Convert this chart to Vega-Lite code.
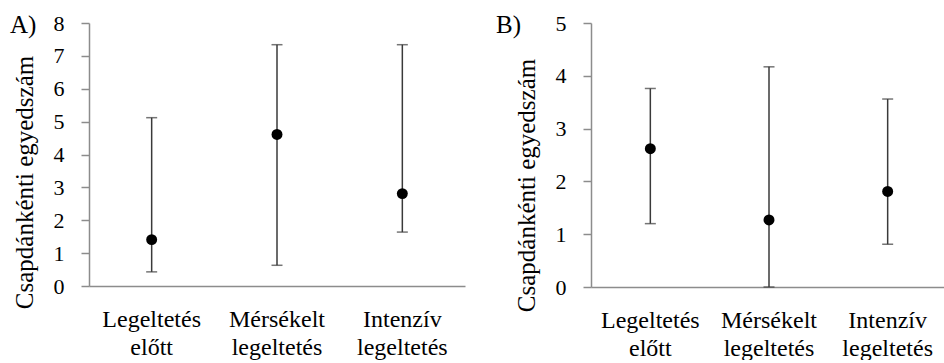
{
  "$schema": "https://vega.github.io/schema/vega-lite/v6.json",
  "background": "white",
  "padding": {"left": 10, "top": 12, "right": 0, "bottom": 0},
  "spacing": 31,
  "config": {
    "view": {"stroke": null},
    "font": "Liberation Serif",
    "axis": {
      "domainColor": "#8c8c8c",
      "tickColor": "#8c8c8c",
      "domainWidth": 1.5,
      "tickWidth": 1.5,
      "grid": false,
      "labelFont": "Liberation Serif",
      "titleFont": "Liberation Serif",
      "labelColor": "#000000",
      "titleColor": "#000000",
      "titleFontWeight": "normal"
    },
    "axisY": {"labelFontSize": 22, "titleFontSize": 25, "tickSize": 8, "labelPadding": 17, "titlePadding": 16},
    "axisX": {"labelFontSize": 24, "ticks": false, "labelPadding": 21, "labelLineHeight": 28, "labelBaseline": "top", "labelAngle": 0}
  },
  "datasets": {
    "A": [
      {"kat": "Legeltetés|előtt", "atlag": 1.41, "also": 0.43, "felso": 5.12},
      {"kat": "Mérsékelt|legeltetés", "atlag": 4.61, "also": 0.63, "felso": 7.34},
      {"kat": "Intenzív|legeltetés", "atlag": 2.81, "also": 1.64, "felso": 7.34}
    ],
    "B": [
      {"kat": "Legeltetés|előtt", "atlag": 2.62, "also": 1.2, "felso": 3.76},
      {"kat": "Mérsékelt|legeltetés", "atlag": 1.27, "also": 0, "felso": 4.17},
      {"kat": "Intenzív|legeltetés", "atlag": 1.81, "also": 0.81, "felso": 3.56}
    ]
  },
  "hconcat": [
    {
      "width": 376,
      "height": 263,
      "data": {"name": "A"},
      "title": {"text": "A)", "anchor": "start", "frame": "bounds", "fontSize": 25, "font": "Liberation Serif", "fontWeight": "normal", "dy": 26, "dx": -2, "offset": 0},
      "encoding": {
        "x": {
          "field": "kat", "type": "nominal", "sort": null,
          "scale": {"paddingInner": 0, "paddingOuter": 0},
          "axis": {"title": null, "labelExpr": "split(datum.label, '|')"}
        }
      },
      "layer": [
        {
          "mark": {"type": "rule", "color": "#3a3a3a", "strokeWidth": 1.5},
          "encoding": {
            "y": {"field": "also", "type": "quantitative", "scale": {"domain": [0, 8], "nice": false},
              "axis": {"title": "Csapdánkénti egyedszám", "titleY": 159, "values": [0,1,2,3,4,5,6,7,8]}},
            "y2": {"field": "felso"}
          }
        },
        {
          "mark": {"type": "tick", "color": "#3a3a3a", "size": 11, "thickness": 1.5, "orient": "horizontal"},
          "encoding": {"y": {"field": "also", "type": "quantitative",
              "axis": {"title": "Csapdánkénti egyedszám", "titleY": 159, "values": [0,1,2,3,4,5,6,7,8]}}}
        },
        {
          "mark": {"type": "tick", "color": "#3a3a3a", "size": 11, "thickness": 1.5, "orient": "horizontal"},
          "encoding": {"y": {"field": "felso", "type": "quantitative",
              "axis": {"title": "Csapdánkénti egyedszám", "titleY": 159, "values": [0,1,2,3,4,5,6,7,8]}}}
        },
        {
          "mark": {"type": "point", "filled": true, "color": "#000000", "size": 120, "opacity": 1},
          "encoding": {"y": {"field": "atlag", "type": "quantitative",
              "axis": {"title": "Csapdánkénti egyedszám", "titleY": 159, "values": [0,1,2,3,4,5,6,7,8]}}}
        }
      ]
    },
    {
      "width": 356,
      "height": 264,
      "data": {"name": "B"},
      "title": {"text": "B)", "anchor": "start", "frame": "bounds", "fontSize": 25, "font": "Liberation Serif", "fontWeight": "normal", "dy": 26, "dx": -18, "offset": 0},
      "encoding": {
        "x": {
          "field": "kat", "type": "nominal", "sort": null,
          "scale": {"paddingInner": 0, "paddingOuter": 0},
          "axis": {"title": null, "labelExpr": "split(datum.label, '|')"}
        }
      },
      "layer": [
        {
          "mark": {"type": "rule", "color": "#3a3a3a", "strokeWidth": 1.5},
          "encoding": {
            "y": {"field": "also", "type": "quantitative", "scale": {"domain": [0, 5], "nice": false},
              "axis": {"title": "Csapdánkénti egyedszám", "titleY": 162, "values": [0,1,2,3,4,5]}},
            "y2": {"field": "felso"}
          }
        },
        {
          "mark": {"type": "tick", "color": "#3a3a3a", "size": 11, "thickness": 1.5, "orient": "horizontal"},
          "encoding": {"y": {"field": "also", "type": "quantitative",
              "axis": {"title": "Csapdánkénti egyedszám", "titleY": 162, "values": [0,1,2,3,4,5]}}}
        },
        {
          "mark": {"type": "tick", "color": "#3a3a3a", "size": 11, "thickness": 1.5, "orient": "horizontal"},
          "encoding": {"y": {"field": "felso", "type": "quantitative",
              "axis": {"title": "Csapdánkénti egyedszám", "titleY": 162, "values": [0,1,2,3,4,5]}}}
        },
        {
          "mark": {"type": "point", "filled": true, "color": "#000000", "size": 120, "opacity": 1},
          "encoding": {"y": {"field": "atlag", "type": "quantitative",
              "axis": {"title": "Csapdánkénti egyedszám", "titleY": 162, "values": [0,1,2,3,4,5]}}}
        }
      ]
    }
  ]
}
